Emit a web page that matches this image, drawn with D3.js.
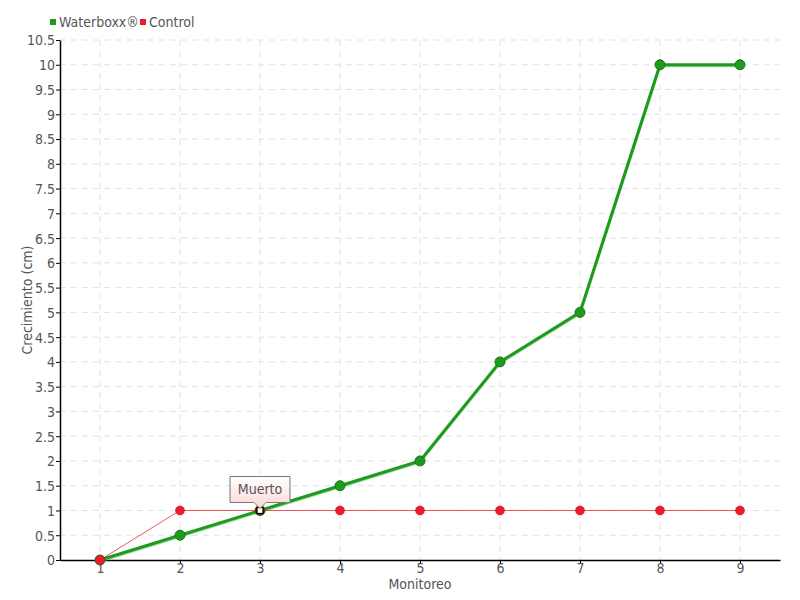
<!DOCTYPE html>
<html><head><meta charset="utf-8">
<script src="https://cdn.jsdelivr.net/npm/d3@7"></script>
<style>
body{margin:0;background:#fff;}
text{font-family:"DejaVu Sans Condensed","Liberation Sans Narrow",sans-serif;fill:#555555;}
</style></head>
<body><svg id="c" width="800" height="600"></svg>
<script>
const monitoreo = [1,2,3,4,5,6,7,8,9];
const waterboxx = [0,0.5,1,1.5,2,4,5,10,10];
const control = [0,1,1,1,1,1,1,1,1];
const yTicks = [0,0.5,1,1.5,2,2.5,3,3.5,4,4.5,5,5.5,6,6.5,7,7.5,8,8.5,9,9.5,10,10.5];
const seriesNames = ["Waterboxx®","Control"];
const tooltipText = "Muerto";
const tooltipIndex = 2;

const svg = d3.select("#c");
const m = {l:60, r:20, t:40, b:40};
const W = 800, H = 600;
const x = d3.scaleLinear().domain([0.5,9.5]).range([m.l, W-m.r]);
const y = d3.scaleLinear().domain([0,10.5]).range([H-m.b, m.t]);

// grid
const g = svg.append("g");
g.selectAll(".hg").data(yTicks.slice(1)).enter().append("line")
 .attr("x1",m.l).attr("x2",W-m.r).attr("y1",d=>y(d)).attr("y2",d=>y(d))
 .attr("stroke","#e2e2e2").attr("stroke-dasharray","6,5");
g.selectAll(".vg").data(monitoreo).enter().append("line")
 .attr("x1",d=>x(d)).attr("x2",d=>x(d)).attr("y1",m.t).attr("y2",H-m.b)
 .attr("stroke","#e2e2e2").attr("stroke-dasharray","6,5");

// axes
const ax = svg.append("g").attr("transform",`translate(0,${H-m.b})`)
 .call(d3.axisBottom(x).tickValues(monitoreo).tickFormat(d3.format("d")).tickSize(4).tickSizeOuter(0));
const ay = svg.append("g").attr("transform",`translate(${m.l},0)`)
 .call(d3.axisLeft(y).tickValues(yTicks).tickFormat(d=>String(d)).tickSize(4).tickSizeOuter(0));
[ax,ay].forEach(a=>{a.selectAll("text").style("font-size","14px").attr("fill","#555555");
 a.select(".domain").attr("stroke","#000").attr("stroke-width",1.5);
 a.selectAll(".tick line").attr("stroke","#000");});
ay.selectAll("text").attr("x",-5).attr("dy","0.35em");
ax.selectAll("text").attr("y",3);

svg.append("text").attr("x",(m.l+W-m.r)/2).attr("y",589).attr("text-anchor","middle")
 .style("font-size","14px").text("Monitoreo");
svg.append("text").attr("transform",`translate(32,${(m.t+H-m.b)/2}) rotate(-90)`)
 .attr("text-anchor","middle").style("font-size","14px").text("Crecimiento (cm)");

const line = d3.line().x((d,i)=>x(monitoreo[i])).y(d=>y(d));
svg.append("path").datum(waterboxx).attr("d",line).attr("fill","none")
 .attr("stroke","#5cc05c").attr("stroke-width",3).attr("transform","translate(0,1)").attr("opacity",0.6);
svg.append("path").datum(waterboxx).attr("d",line).attr("fill","none")
 .attr("stroke","#1e9a1e").attr("stroke-width",3);
svg.append("path").datum(control).attr("d",line).attr("fill","none")
 .attr("stroke","#f0404e").attr("stroke-width",1).attr("opacity",0.9);

svg.selectAll(".gp").data(waterboxx).enter().append("circle")
 .attr("cx",(d,i)=>x(monitoreo[i])).attr("cy",d=>y(d)).attr("r",5)
 .attr("fill","#1e9a1e").attr("stroke","#157a15").attr("stroke-width",1);
control.forEach((d,i)=>{
 if(i===tooltipIndex) return;
 svg.append("circle").attr("cx",x(monitoreo[i])).attr("cy",y(d)).attr("r",4.5)
  .attr("fill","#ee1c2e").attr("stroke","#c4101f").attr("stroke-width",0.5);
});
// highlighted point
const hx = x(monitoreo[tooltipIndex]), hy = y(control[tooltipIndex]);
svg.append("circle").attr("cx",hx).attr("cy",hy).attr("r",5).attr("fill","#7a1a10");
svg.append("rect").attr("x",hx-3).attr("y",hy-3).attr("width",6).attr("height",6)
 .attr("fill","#fff").attr("stroke","#000").attr("stroke-width",1.2);

// tooltip
const defs = svg.append("defs");
const lg = defs.append("linearGradient").attr("id","tg").attr("x1",0).attr("y1",0).attr("x2",0).attr("y2",1);
lg.append("stop").attr("offset","0%").attr("stop-color","#ffffff");
lg.append("stop").attr("offset","100%").attr("stop-color","#fcd6d6");
const tw=60, th=26, tx=hx-30, ty=hy-34;
svg.append("path")
 .attr("d",`M${tx},${ty} h${tw} v${th} h${-(tw/2-6)} l-6,6 l-6,-6 h${-(tw/2-6)} Z`)
 .attr("fill","url(#tg)").attr("stroke","#777").attr("stroke-width",1);
svg.append("text").attr("x",hx).attr("y",ty+18).attr("text-anchor","middle")
 .style("font-size","14px").text(tooltipText);

// legend
const colors = ["#1e9a1e","#ee1c2e"];
const lx = [50,140];
seriesNames.forEach((n,i)=>{
 svg.append("rect").attr("x",lx[i]).attr("y",19).attr("width",6).attr("height",6).attr("fill",colors[i]);
 svg.append("text").attr("x",lx[i]+9).attr("y",27).style("font-size","14px").text(n);
});
</script></body></html>
